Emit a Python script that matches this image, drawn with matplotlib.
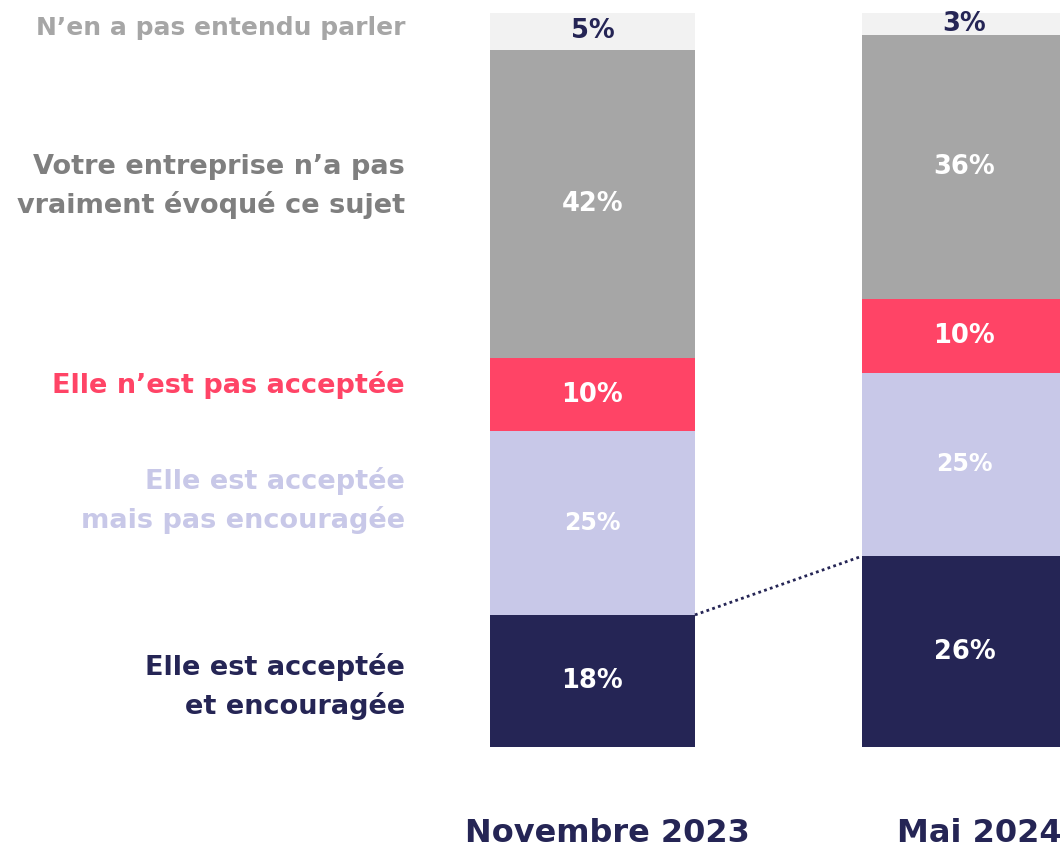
import numpy as np
from matplotlib import pyplot as plt

# =============================================================================
# Data:
# =============================================================================

periods = ["Novembre 2023", "Mai 2024"]
categories = [
    "Elle est acceptée\net encouragée",
    "Elle est acceptée\nmais pas encouragée",
    "Elle n\u2019est pas acceptée",
    "Votre entreprise n\u2019a pas\nvraiment évoqué ce sujet",
    "N\u2019en a pas entendu parler",
]
nov_2023 = [18, 25, 10, 42, 5]
mai_2024 = [26, 25, 10, 36, 3]

# =============================================================================
# Styles:
# =============================================================================

SEG_COLORS = ["#252555", "#C8C8E8", "#FF4466", "#A6A6A6", "#F2F2F2"]
VAL_COLORS = ["white", "white", "white", "white", "#252555"]
LABEL_COLORS = ["#252555", "#C8C8E8", "#FF4466", "#7F7F7F", "#A6A6A6"]
LABEL_Y = [8.3, 33.6, 49.3, 76.3, 97.9]
LABEL_SIZE = [19.5, 19.5, 19.5, 19.5, 18]
FONT = "DejaVu Sans"

fig = plt.figure(figsize=(10.6, 8.52), dpi=100)
ax = fig.add_axes([0, 0, 1, 1])
ax.set_xlim(-1.593, 1.257)
ax.set_ylim(-14.3, 101.77)
ax.axis("off")

width = 0.551
x = np.arange(len(periods))
values = np.array([nov_2023, mai_2024])

bottoms = np.zeros(len(periods))
for k in range(len(categories)):
    ax.bar(x, values[:, k], width, bottom=bottoms, color=SEG_COLORS[k], linewidth=0)
    for i in range(len(periods)):
        v = values[i, k]
        ax.text(x[i], bottoms[i] + v / 2, f"{v}%", ha="center", va="center",
                color=VAL_COLORS[k], fontsize=18.5 if k != 1 else 17,
                fontweight="bold", family=FONT)
    bottoms = bottoms + values[:, k]

# dotted connector between the tops of the first segment
ax.plot([x[0] + width / 2, x[1] - width / 2], [values[0, 0], values[1, 0]],
        ls=(0, (1, 1.2)), color="#252555", lw=2)

# category labels on the left
for k, cat in enumerate(categories):
    ax.text(-0.504, LABEL_Y[k], cat, ha="right", va="center", color=LABEL_COLORS[k],
            fontsize=LABEL_SIZE[k], fontweight="bold", family=FONT, linespacing=1.5)

# period labels
for i, p in enumerate(periods):
    ax.text(x[i] + 0.04, -13.0, p, ha="center", va="baseline", color="#252555",
            fontsize=23, fontweight="bold", family=FONT)

plt.savefig("out.png", dpi=100)
